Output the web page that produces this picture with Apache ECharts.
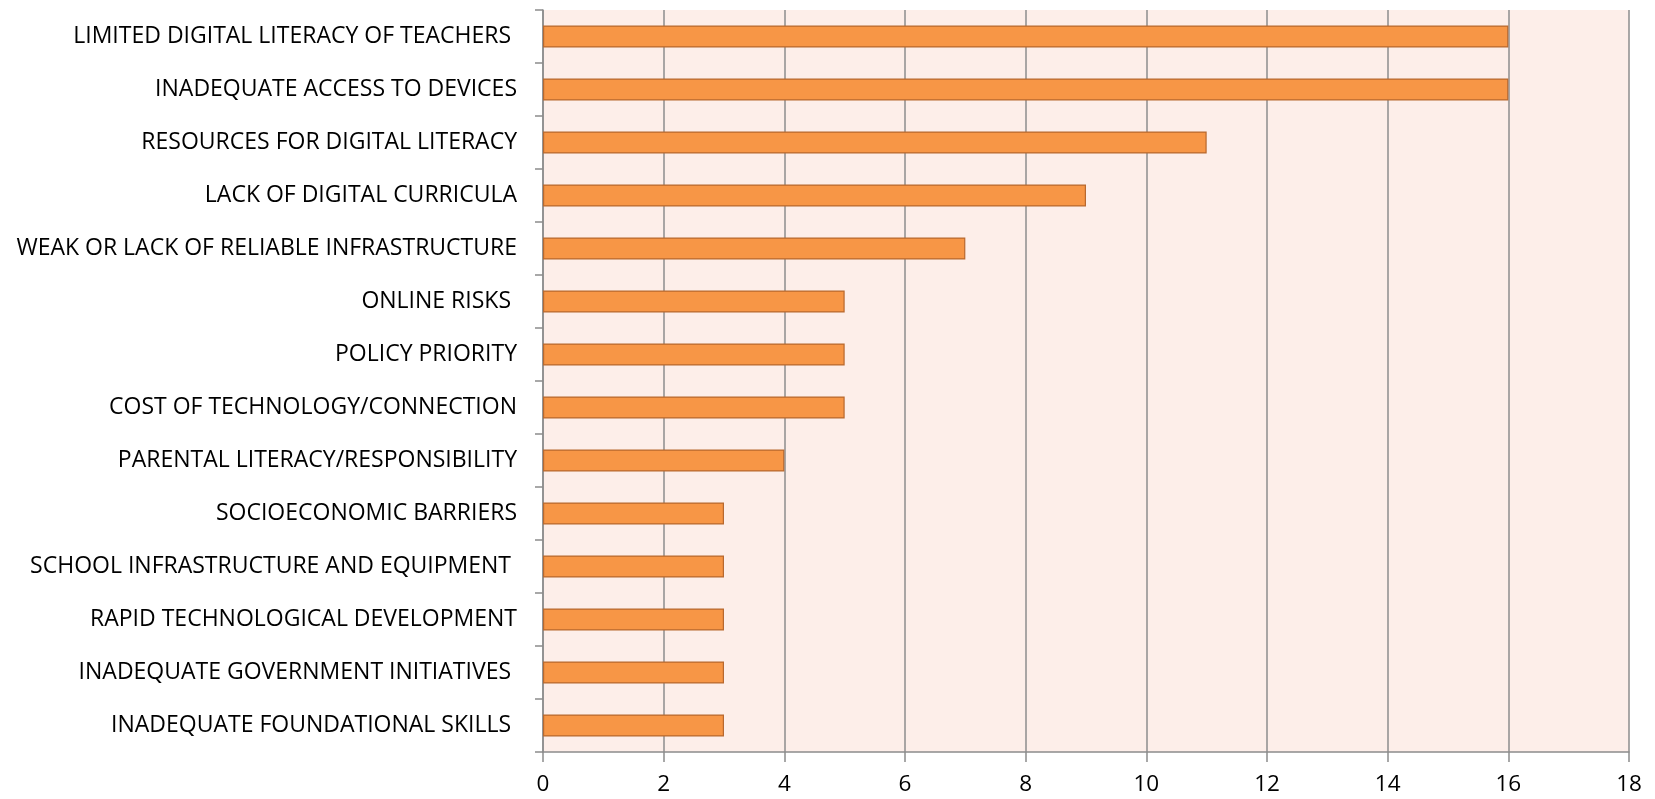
<!DOCTYPE html>
<html><head><meta charset="utf-8">
<script src="https://cdn.jsdelivr.net/npm/echarts@6/dist/echarts.min.js"></script>
<style>html,body{margin:0;padding:0;background:#fff}#c{width:1655px;height:799px}</style>
</head><body><div id="c"></div>
<script>
const categories = [
  "LIMITED DIGITAL LITERACY OF TEACHERS ",
  "INADEQUATE ACCESS TO DEVICES",
  "RESOURCES FOR DIGITAL LITERACY",
  "LACK OF DIGITAL CURRICULA",
  "WEAK OR LACK OF RELIABLE INFRASTRUCTURE",
  "ONLINE RISKS ",
  "POLICY PRIORITY",
  "COST OF TECHNOLOGY/CONNECTION",
  "PARENTAL LITERACY/RESPONSIBILITY",
  "SOCIOECONOMIC BARRIERS",
  "SCHOOL INFRASTRUCTURE AND EQUIPMENT ",
  "RAPID TECHNOLOGICAL DEVELOPMENT",
  "INADEQUATE GOVERNMENT INITIATIVES ",
  "INADEQUATE FOUNDATIONAL SKILLS "
];
const values = [16, 16, 11, 9, 7, 5, 5, 5, 4, 3, 3, 3, 3, 3];
const xMin = 0, xMax = 18, xInterval = 2;

const chart = echarts.init(document.getElementById('c'), null, {renderer: 'canvas'});
const font = '"Open Sans", sans-serif';
chart.setOption({
  animation: false,
  grid: {left: 543, top: 10, right: 26, bottom: 47, containLabel: false,
         show: true, backgroundColor: '#FDEEE9', borderWidth: 0},
  xAxis: {
    type: 'value', min: xMin, max: xMax, interval: xInterval,
    axisLine: {show: true, lineStyle: {color: '#8c8c8c', width: 1.5}},
    axisTick: {show: true, length: 10, lineStyle: {color: '#8c8c8c', width: 1.5}},
    splitLine: {show: true, lineStyle: {color: '#8c8c8c', width: 1.5}},
    axisLabel: {color: '#000', fontSize: 22.5, fontFamily: font, margin: 21}
  },
  yAxis: {
    type: 'category', data: categories, inverse: true,
    axisLine: {show: true, lineStyle: {color: '#8c8c8c', width: 1.5}},
    axisTick: {show: true, length: 8, lineStyle: {color: '#8c8c8c', width: 1.5}},
    axisLabel: {color: '#000', fontSize: 23, fontFamily: font, margin: 26}
  },
  series: [{
    type: 'bar', data: values, barWidth: 22,
    itemStyle: {color: '#F79646', borderColor: '#B8682E', borderWidth: 1.2}
  }]
});
</script></body></html>
